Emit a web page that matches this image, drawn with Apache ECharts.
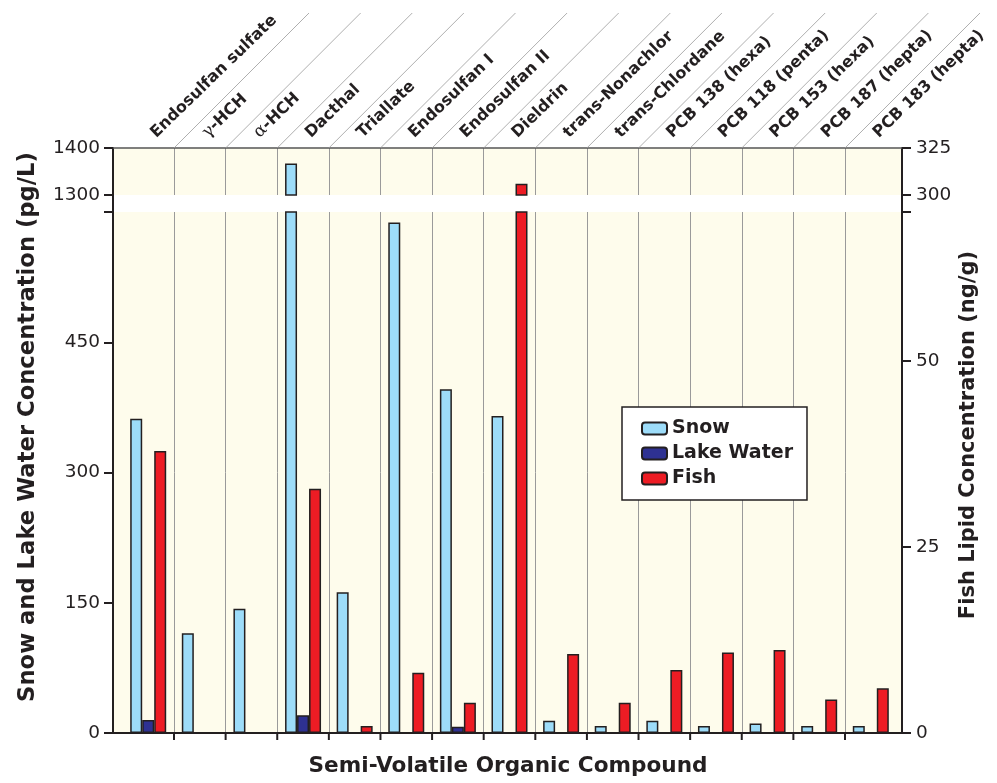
<!DOCTYPE html>
<html>
<head>
<meta charset="utf-8">
<script src="https://cdn.jsdelivr.net/npm/echarts@6.0.0/dist/echarts.min.js"></script>
<style>
html,body{margin:0;padding:0;background:#fff;}
#chart{width:997px;height:783px;}
</style>
</head>
<body>
<div id="chart"></div>
<script>
// ---- data ----
const categories = ['Endosulfan sulfate', 'γ-HCH', 'α-HCH', 'Dacthal', 'Triallate', 'Endosulfan I', 'Endosulfan II', 'Dieldrin', 'trans-Nonachlor', 'trans-Chlordane', 'PCB 138 (hexa)', 'PCB 118 (penta)', 'PCB 153 (hexa)', 'PCB 187 (hepta)', 'PCB 183 (hepta)'];
const snow = [362, 115, 143, 1367, 162, 588, 396, 365, 14, 8, 14, 8, 11, 8, 8];
const lakeWater = [15, null, null, 20.5, null, null, 7.3, null, null, null, null, null, null, null, null];
const fish = [37.9, null, null, 32.8, 0.95, 8.1, 4.05, 306, 10.6, 4.05, 8.45, 10.8, 11.15, 4.5, 6.0];
const leftLowerTicks = [0, 150, 300, 450];
const leftUpperTicks = [1300, 1400];
const rightLowerTicks = [0, 25, 50];
const rightUpperTicks = [300, 325];

// axis break settings (lower segment max, upper segment min/max)
const leftLowerMax = 600, leftUpperMin = 1300, leftUpperMax = 1400;
const rightLowerMax = 70, rightUpperMin = 300, rightUpperMax = 325;

const upperOnly = (arr, lim) => arr.map(v => (v != null && v > lim) ? v : null);
const boundaries = categories.slice(1).map((c, i) => i + 1);

const TXT = '#231F20';
const FONT = "'DejaVu Sans', 'Liberation Sans', Arial, sans-serif";
const BG = '#FEFCEC';
const COLORS = { snow: '#9DDCF9', lake: '#2E3192', fish: '#ED1C24' };

const chart = echarts.init(document.getElementById('chart'), null, { renderer: 'canvas' });

const L = 113, R = 902, TOP = 148, BRK1 = 195, BRK2 = 212, BOT = 733;
const CL = 122.4, CR = 896.6;
const W = 997, H = 783;

function barStyle(color) {
  return { color: color, borderColor: TXT, borderWidth: 1.5 };
}

const yTickLabel = {
  fontSize: 18.5, color: TXT, fontFamily: FONT
};

const option = {
  animation: false,
  backgroundColor: '#fff',
  textStyle: { fontFamily: FONT },
  grid: [
    { left: L, right: W - R, top: TOP, bottom: H - BOT, show: false },
    { left: L, right: W - R, top: TOP, height: BRK1 - TOP, show: true, backgroundColor: BG, borderWidth: 0 },
    { left: L, right: W - R, top: BRK2, bottom: H - BOT, show: true, backgroundColor: BG, borderWidth: 0 },
    { left: CL, right: W - CR, top: TOP, height: BRK1 - TOP, show: false },
    { left: CL, right: W - CR, top: BRK2, bottom: H - BOT, show: false }
  ],
  xAxis: [
    { gridIndex: 0, type: 'value', show: false },
    { gridIndex: 1, type: 'value', position: 'top', axisLine: { show: true, onZero: false, lineStyle: { color: '#555', width: 1.5 } }, axisTick: { show: false }, axisLabel: { show: false }, splitLine: { show: false } },
    { gridIndex: 2, type: 'value', position: 'bottom', axisLine: { show: true, onZero: false, lineStyle: { color: TXT, width: 2 } }, axisTick: { show: false }, axisLabel: { show: false }, splitLine: { show: false } },
    {
      gridIndex: 3, type: 'category', data: categories, position: 'top',
      axisLine: { show: false, onZero: false }, axisTick: { show: false },
      axisLabel: {
        show: true, interval: 0, rotate: -44, margin: 8,
        fontSize: 16, fontWeight: 'bold', color: TXT, fontFamily: FONT,
        padding: [0, 0, 0, 7],
        formatter: function (v) {
          return v.replace(/^([γα])/, '{g|$1}');
        },
        rich: { g: { fontFamily: "'DejaVu Serif', serif", fontWeight: 'normal', fontSize: 17, color: TXT } }
      },
      splitLine: { show: true, interval: 0, showMinLine: false, showMaxLine: false, lineStyle: { color: '#9a9a9a', width: 1 } }
    },
    {
      gridIndex: 4, type: 'category', data: categories, position: 'bottom',
      axisLine: { show: false, onZero: false },
      axisTick: { show: false },
      axisLabel: { show: false },
      splitLine: { show: true, interval: 0, showMinLine: false, showMaxLine: false, lineStyle: { color: '#9a9a9a', width: 1 } }
    }
  ],
  yAxis: [
    { gridIndex: 0, type: 'value', position: 'left', min: 0, max: 1, axisLine: { show: true, onZero: false, lineStyle: { color: TXT, width: 2 } }, axisTick: { show: false }, axisLabel: { show: false }, splitLine: { show: false } },
    { gridIndex: 0, type: 'value', position: 'right', min: 0, max: 1, axisLine: { show: true, onZero: false, lineStyle: { color: TXT, width: 2 } }, axisTick: { show: false }, axisLabel: { show: false }, splitLine: { show: false } },
    { gridIndex: 1, type: 'value', show: false },
    { gridIndex: 2, type: 'value', show: false },
    {
      gridIndex: 3, type: 'value', position: 'left', offset: CL - L,
      min: leftUpperMin, max: leftUpperMax, interval: leftUpperTicks[1] - leftUpperTicks[0],
      axisLine: { show: false, onZero: false }, axisTick: { show: true, length: 9, lineStyle: { color: TXT, width: 2 } },
      axisLabel: Object.assign({ margin: 13, formatter: v => String(v) }, yTickLabel), splitLine: { show: false }
    },
    {
      gridIndex: 3, type: 'value', position: 'right', offset: R - CR,
      min: rightUpperMin, max: rightUpperMax, interval: rightUpperTicks[1] - rightUpperTicks[0],
      axisLine: { show: false, onZero: false }, axisTick: { show: true, length: 9, lineStyle: { color: TXT, width: 2 } },
      axisLabel: Object.assign({ margin: 14, formatter: v => String(v) }, yTickLabel), splitLine: { show: false }
    },
    {
      gridIndex: 4, type: 'value', position: 'left', offset: CL - L,
      min: 0, max: leftLowerMax, interval: leftLowerTicks[1] - leftLowerTicks[0],
      axisLine: { show: false, onZero: false }, axisTick: { show: true, length: 9, lineStyle: { color: TXT, width: 2 } },
      axisLabel: Object.assign({ margin: 13, formatter: v => leftLowerTicks.indexOf(v) >= 0 ? String(v) : '' }, yTickLabel),
      splitLine: { show: false }
    },
    {
      gridIndex: 4, type: 'value', position: 'right', offset: R - CR,
      min: 0, max: rightLowerMax, interval: rightLowerTicks[1] - rightLowerTicks[0],
      axisLine: { show: false, onZero: false }, axisTick: { show: true, length: 9, lineStyle: { color: TXT, width: 2 } },
      axisLabel: Object.assign({ margin: 14, formatter: v => rightLowerTicks.indexOf(v) >= 0 ? String(v) : '' }, yTickLabel),
      splitLine: { show: false }
    }
  ],
  legend: {
    data: ['Snow', 'Lake Water', 'Fish'],
    orient: 'vertical',
    left: 622, top: 407,
    padding: [12, 14, 12, 19],
    itemWidth: 25, itemHeight: 12, itemGap: 6,
    backgroundColor: '#fff', borderColor: TXT, borderWidth: 1.5, borderRadius: 0,
    textStyle: { fontSize: 19, fontWeight: 'bold', color: TXT, fontFamily: FONT },
    selectedMode: false
  },
  graphic: [
    { type: 'text', x: 28, y: 427, rotation: Math.PI / 2, style: { text: 'Snow and Lake Water Concentration (pg/L)', font: "bold 22.7px 'DejaVu Sans', sans-serif", fill: TXT, textAlign: 'center', textVerticalAlign: 'middle' } },
    { type: 'text', x: 969, y: 435, rotation: Math.PI / 2, style: { text: 'Fish Lipid Concentration (ng/g)', font: "bold 21px 'DejaVu Sans', sans-serif", fill: TXT, textAlign: 'center', textVerticalAlign: 'middle' } },
    { type: 'text', x: 508, y: 766, style: { text: 'Semi-Volatile Organic Compound', font: "bold 21.6px 'DejaVu Sans', sans-serif", fill: TXT, textAlign: 'center', textVerticalAlign: 'middle' } }
  ],
  series: [
    // lower segment
    { name: 'Snow', type: 'bar', xAxisIndex: 4, yAxisIndex: 6, data: snow, barWidth: 12, barGap: '0%', itemStyle: barStyle(COLORS.snow), clip: true, z: 3 },
    { name: 'Lake Water', type: 'bar', xAxisIndex: 4, yAxisIndex: 6, data: lakeWater, barWidth: 12, barGap: '0%', itemStyle: barStyle(COLORS.lake), clip: true, z: 3 },
    { name: 'Fish', type: 'bar', xAxisIndex: 4, yAxisIndex: 7, data: fish, barWidth: 12, barGap: '0%', itemStyle: barStyle(COLORS.fish), clip: true, z: 3 },
    // upper segment
    { name: 'Snow', type: 'bar', xAxisIndex: 3, yAxisIndex: 4, data: upperOnly(snow, leftLowerMax), barWidth: 12, barGap: '0%', itemStyle: barStyle(COLORS.snow), clip: true, z: 3 },
    { name: 'Lake Water', type: 'bar', xAxisIndex: 3, yAxisIndex: 4, data: upperOnly(lakeWater, leftLowerMax), barWidth: 12, barGap: '0%', itemStyle: barStyle(COLORS.lake), clip: true, z: 3 },
    { name: 'Fish', type: 'bar', xAxisIndex: 3, yAxisIndex: 5, data: upperOnly(fish, rightLowerMax), barWidth: 12, barGap: '0%', itemStyle: barStyle(COLORS.fish), clip: true, z: 3 },
    // diagonal separators between the rotated category labels
    {
      type: 'custom', xAxisIndex: 3, yAxisIndex: 4, silent: true, clip: false, z: 1,
      data: boundaries.map(i => [i, leftUpperMax]),
      renderItem: function (params, api) {
        const p = api.coord([api.value(0), api.value(1)]);
        const w = api.size([1, 0])[0];
        const x = p[0] - w / 2;
        return { type: 'line', shape: { x1: x, y1: p[1], x2: x + 135, y2: p[1] - 135 }, style: { stroke: '#9a9a9a', lineWidth: 0.8 } };
      }
    },
    // x-axis ticks at the interior category boundaries
    {
      type: 'custom', xAxisIndex: 4, yAxisIndex: 6, silent: true, clip: false, z: 5,
      data: boundaries.map(i => [i, 0]),
      renderItem: function (params, api) {
        const p = api.coord([api.value(0), api.value(1)]);
        const w = api.size([1, 0])[0];
        const x = p[0] - w / 2;
        return { type: 'line', shape: { x1: x, y1: p[1], x2: x, y2: p[1] + 7 }, style: { stroke: TXT, lineWidth: 2 } };
      }
    }
  ]
};
chart.setOption(option);
</script>
</body>
</html>
